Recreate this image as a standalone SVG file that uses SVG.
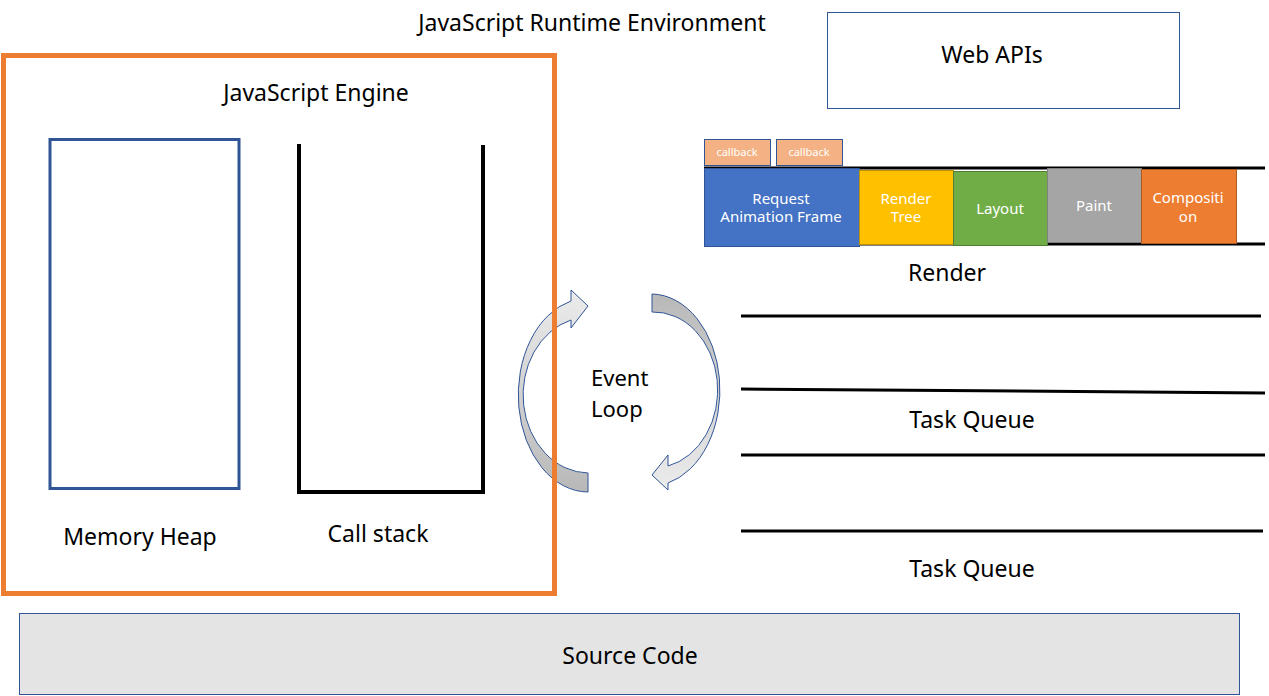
<svg xmlns="http://www.w3.org/2000/svg" width="1269" height="696" viewBox="0 0 1269 696">
<defs>
<style>
text{font-family:"Noto Sans","Liberation Sans",sans-serif;fill:#000}
.lbl{font-size:23px}
.el{font-size:22px}
.w{fill:#fff;font-size:15px}
.cb{fill:#fff;font-size:11px}
.bar{stroke:#000;stroke-width:3;fill:none}
.arr{stroke:#2F5597;stroke-width:1}
</style>
<linearGradient id="gL" x1="0" y1="0" x2="0" y2="1">
<stop offset="0" stop-color="#ececec"/><stop offset="1" stop-color="#b8b8b8"/>
</linearGradient>
<linearGradient id="gR" x1="0" y1="0" x2="0" y2="1">
<stop offset="0" stop-color="#b8b8b8"/><stop offset="1" stop-color="#ececec"/>
</linearGradient>
</defs>
<rect width="1269" height="696" fill="#fff"/>

<text class="lbl" x="592" y="31" text-anchor="middle">JavaScript Runtime Environment</text>

<g id="web-apis">
<rect x="827.5" y="12.5" width="352" height="96" fill="#fff" stroke="#2F5597" stroke-width="1"/>
<text class="lbl" x="992" y="63" text-anchor="middle">Web APIs</text>
</g>

<g id="render">
<line class="bar" x1="704" y1="168" x2="1265" y2="168"/>
<line class="bar" x1="704" y1="244" x2="1265" y2="244"/>
<g id="callback1"><rect x="704.5" y="139.5" width="66" height="26" fill="#F4B183" stroke="#2F5597"/><text class="cb" x="737" y="156" text-anchor="middle">callback</text></g>
<g id="callback2"><rect x="776.5" y="139.5" width="66" height="26" fill="#F4B183" stroke="#2F5597"/><text class="cb" x="809" y="156" text-anchor="middle">callback</text></g>
<g id="raf"><rect x="704.5" y="168.5" width="155" height="78" fill="#4472C4" stroke="#2F5597"/><text class="w" x="781" y="204" text-anchor="middle">Request</text><text class="w" x="781" y="222" text-anchor="middle">Animation Frame</text></g>
<g id="render-tree"><rect x="859.5" y="170.5" width="94" height="74" fill="#FFC000" stroke="#BF9000"/><text class="w" x="906" y="204" text-anchor="middle">Render</text><text class="w" x="906" y="222" text-anchor="middle">Tree</text></g>
<g id="layout"><rect x="953.5" y="171.5" width="94" height="74" fill="#70AD47" stroke="#507E32"/><text class="w" x="1000" y="214" text-anchor="middle">Layout</text></g>
<g id="paint"><rect x="1047.5" y="168.5" width="94" height="74" fill="#A5A5A5" stroke="#7F7F7F"/><text class="w" x="1094" y="211" text-anchor="middle">Paint</text></g>
<g id="composition"><rect x="1141.5" y="169.5" width="95" height="74" fill="#ED7D31" stroke="#AE5A21"/><text class="w" x="1188" y="203" text-anchor="middle">Compositi</text><text class="w" x="1188" y="222" text-anchor="middle">on</text></g>
<text class="lbl" x="947" y="281" text-anchor="middle">Render</text>
</g>

<g id="task-queue-1">
<line class="bar" x1="741" y1="316" x2="1261" y2="316"/>
<line class="bar" x1="741" y1="389" x2="1265" y2="393"/>
<text class="lbl" x="972" y="428" text-anchor="middle">Task Queue</text>
</g>
<g id="task-queue-2">
<line class="bar" x1="741" y1="455" x2="1265" y2="455"/>
<line class="bar" x1="741" y1="531" x2="1263" y2="531"/>
<text class="lbl" x="972" y="577" text-anchor="middle">Task Queue</text>
</g>

<g id="event-loop">
<path class="arr" fill="url(#gL)" d="M 588 492 A 70 97 0 0 1 571 301 L 571 290 L 588 306 L 571 328 L 571 320 A 66 78 0 0 0 588 473 Z"/>
<path class="arr" fill="url(#gR)" d="M 652 294 A 69 96 0 0 1 668 483 L 668 490 L 652 475 L 668 455 L 668 466 A 64 78 0 0 0 652 312 Z"/>
<text class="el"><tspan x="591" y="386">Event</tspan><tspan x="591" y="417">Loop</tspan></text>
</g>

<g id="js-engine">
<rect x="3.5" y="55.5" width="551" height="538" fill="none" stroke="#ED7D31" stroke-width="5"/>
<text class="lbl" x="316" y="101" text-anchor="middle">JavaScript Engine</text>
</g>

<g id="memory-heap">
<rect x="50" y="139.5" width="189" height="349" fill="none" stroke="#2F5597" stroke-width="3"/>
<text class="lbl" x="140" y="545" text-anchor="middle">Memory Heap</text>
</g>

<g id="call-stack">
<path d="M 299 144 L 299 492 L 483 492 L 483 145" fill="none" stroke="#000" stroke-width="4"/>
<text class="lbl" x="378" y="542" text-anchor="middle">Call stack</text>
</g>

<g id="source-code">
<rect x="19.5" y="613.5" width="1220" height="81" fill="#E4E4E4" stroke="#2F5597" stroke-width="1"/>
<text class="lbl" x="630" y="664" text-anchor="middle">Source Code</text>
</g>
</svg>
